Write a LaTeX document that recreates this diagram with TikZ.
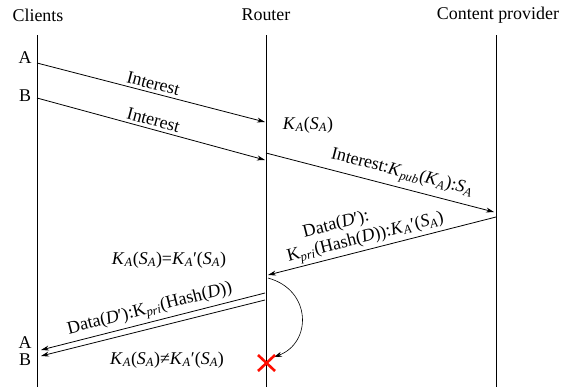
\documentclass[tikz,border=0pt]{standalone}
\usepackage{fontspec}
\setmainfont{Liberation Serif}
\usetikzlibrary{arrows.meta,positioning}

\newcommand{\ka}{\textit{K}\textsubscript{\textit{A}}}
\newcommand{\kap}{\textit{K}\textsubscript{\textit{A}}′}
\newcommand{\sa}{\textit{S}\textsubscript{\textit{A}}}

\begin{document}
\begin{tikzpicture}[x=1bp, y=-1bp,
    every node/.style={font=\fontsize{18}{20}\selectfont, inner sep=1bp},
    msg/.style={-{Stealth[length=8bp,width=5bp]}, line width=0.8bp},
    life/.style={line width=1bp}]
    \useasboundingbox (0,0) rectangle (561,387);

    % Lifelines
    \node (cli) at (38,15) {Clients};
    \node (rou) at (266,15) {Router};
    \node (cp) at (498,15) {Content provider};
    \coordinate (cliTop) at (37,35);  \coordinate (cliBot) at (37,387);
    \coordinate (rouTop) at (266,35); \coordinate (rouBot) at (266,387);
    \coordinate (cpTop) at (496,35);  \coordinate (cpBot) at (496,387);
    \draw[life] (cliTop) -- (cliBot);
    \draw[life] (rouTop) -- (rouBot);
    \draw[life] (cpTop) -- (cpBot);

    % Requests from A and B
    \node (a1) at (25,58) {A};
    \node (b1) at (25,96) {B};
    \coordinate (ia) at (37,63);  \coordinate (iaR) at (265,122);
    \coordinate (ib) at (37,98);  \coordinate (ibR) at (265,160);
    \draw[msg] (ia) -- node[sloped, above=2bp] {Interest} (iaR);
    \draw[msg] (ib) -- node[sloped, above=2bp] {Interest} (ibR);
    \node (kas) at (308,125) {\ka(\sa)};

    % Router <-> content provider
    \coordinate (fw) at (266,153);  \coordinate (fwP) at (494,212);
    \draw[msg] (fw) -- node[sloped, above=4bp, pos=0.58] {Interest:\textit{K}\textsubscript{\textit{pub}}(\ka):\sa} (fwP);
    \coordinate (dt) at (496,217);  \coordinate (dtR) at (268,275);
    \draw[msg] (dt) -- node[sloped, above=1bp, pos=0.56, align=left]
        {\hspace{1.2em}Data(\textit{D}′):\\K\textsubscript{\textit{pri}}(Hash(\textit{D})):\kap(\sa)} (dtR);

    % Check at router
    \node (eq) at (169,260) {\ka(\sa)=\kap(\sa)};
    \coordinate (d1) at (265,293);  \coordinate (d1C) at (41,350);
    \coordinate (d2) at (265,300);  \coordinate (d2C) at (41,356);
    \draw[msg] (d1) -- node[sloped, above=2bp] {Data(\textit{D}′):K\textsubscript{\textit{pri}}(Hash(\textit{D}))} (d1C);
    \draw[msg] (d2) -- (d2C);
    \node (a2) at (25,343) {A};
    \node (b2) at (25,360) {B};
    \node (neq) at (167,360) {\ka(\sa)≠\kap(\sa)};

    % Rejected branch
    \coordinate (cv) at (268,278);  \coordinate (cvE) at (274,357);
    \draw[msg, line width=0.6bp] (cv) .. controls (312,290) and (312,343) .. (cvE);
    \draw[red!90!orange, line width=2.6bp] (258,355) -- (275,371) (275,355) -- (258,371);
\end{tikzpicture}
\end{document}
